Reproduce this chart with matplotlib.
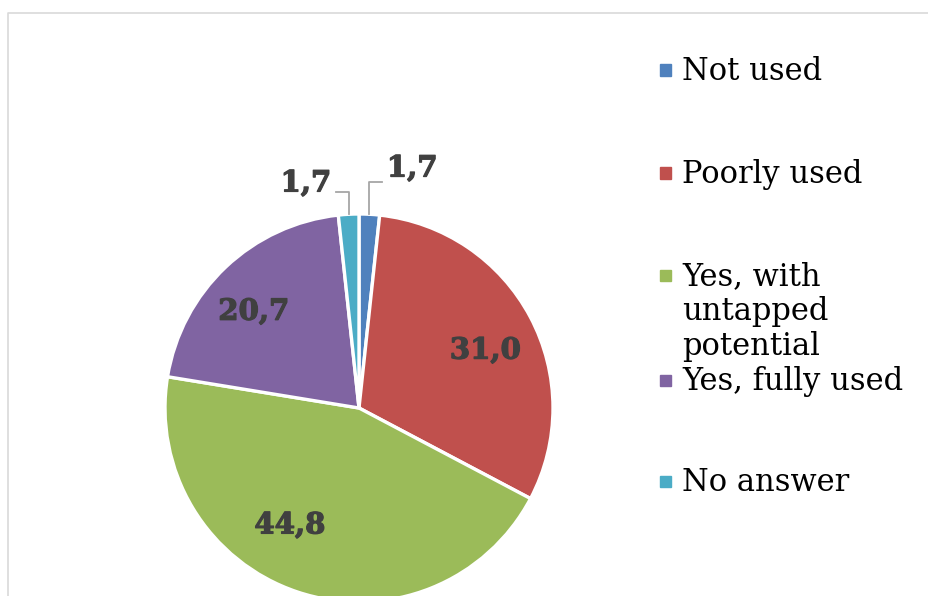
import matplotlib
matplotlib.use("Agg")
import matplotlib.pyplot as plt
import matplotlib.patheffects as pe
from matplotlib.lines import Line2D
from matplotlib.patches import Rectangle
import numpy as np

categories = ["Not used", "Poorly used", "Yes, with\nuntapped\npotential",
              "Yes, fully used", "No answer"]
values = [1.7, 31.0, 44.8, 20.7, 1.7]
value_labels = ["1,7", "31,0", "44,8", "20,7", "1,7"]
colors = ["#4F81BD", "#C0504D", "#9BBB59", "#8064A2", "#4BACC6"]

# label placement tweaks (angle shift in degrees, radius) like Excel's best fit
lab_shift = [0, -3.4, -12, 4, 0]
lab_rad = [1.0, 0.716, 0.70, 0.737, 1.0]

W, H = 929, 596
fig = plt.figure(figsize=(W / 100, H / 100), dpi=100)

# pie centre and radius in pixels
cx, cy, R = 359, 408, 194
ax = fig.add_axes([(cx - R) / W, (H - cy - R) / H, 2 * R / W, 2 * R / H])
wedges, _ = ax.pie(values, colors=colors, startangle=90, counterclock=False,
                   wedgeprops=dict(edgecolor="white", linewidth=2.4))
ax.set_xlim(-1, 1)
ax.set_ylim(-1, 1)
ax.set_aspect("equal")
ax.axis("off")
for w in wedges:
    w.set_clip_on(False)

lab_font = dict(family="DejaVu Serif", fontsize=21, fontweight="bold", color="#404040",
                path_effects=[pe.withStroke(linewidth=0.9, foreground="#404040")])
total = sum(values)
start = 90.0
for i, (v, lab) in enumerate(zip(values, value_labels)):
    sweep = v / total * 360
    mid = np.deg2rad(start - sweep / 2 + lab_shift[i])
    start -= sweep
    if v > 5:
        r = lab_rad[i]
        ax.text(r * np.cos(mid), r * np.sin(mid), lab, ha="center",
                va="center", clip_on=False, **lab_font)
    else:
        ex, ey = np.cos(mid), np.sin(mid)
        side = 1 if ex > 0 else -1
        ky = 1.165 if side > 0 else 1.113
        ty = 1.237 if side > 0 else 1.16
        ax.plot([ex, ex, ex + side * 0.065], [ey, ky, ky],
                color="#A6A6A6", lw=1.3, clip_on=False)
        ax.text(ex + side * 0.09, ty, lab, ha="left" if side > 0 else "right",
                va="center", clip_on=False, **lab_font)

# legend drawn by hand
leg_y = [70, 173, 275, 380, 481]
for lab, c, y in zip(categories, colors, leg_y):
    fig.patches.append(Rectangle((660 / W, (H - y - 5.5) / H), 11 / W, 11 / H,
                                 transform=fig.transFigure, color=c))
    fig.text(682 / W, (H - y + 14) / H, lab, ha="left", va="top",
             family="DejaVu Serif", fontsize=22, color="black",
             linespacing=1.17, transform=fig.transFigure)

# chart frame (left and top edges visible)
fig.add_artist(Line2D([8 / W, 8 / W, 1], [0, (H - 13) / H, (H - 13) / H],
                      color="#D9D9D9", lw=1.2, transform=fig.transFigure))

fig.savefig("out.png", dpi=100)
